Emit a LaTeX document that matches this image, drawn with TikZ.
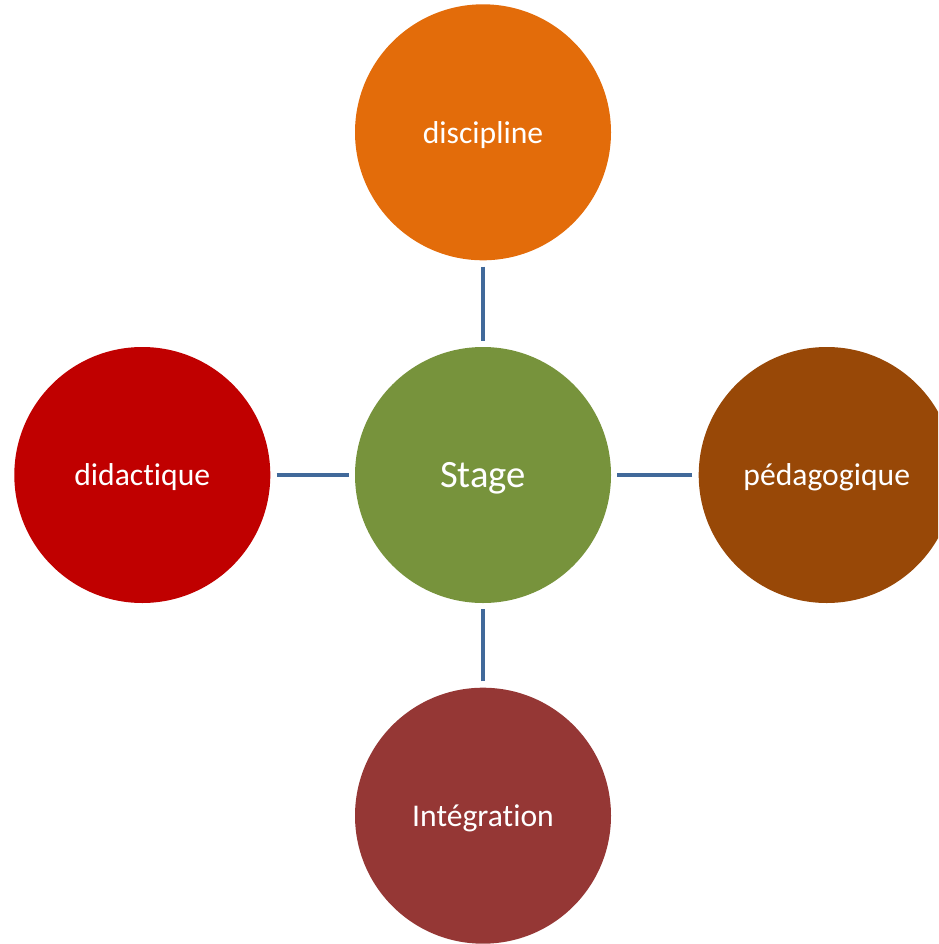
\documentclass[tikz,border=0pt]{standalone}
\usepackage{fontspec}
\setmainfont{Carlito}[RawFeature=-liga]
\usepackage{tikz}
\usetikzlibrary{positioning}

\definecolor{stagegreen}{HTML}{77933C}
\definecolor{discorange}{HTML}{E36C0A}
\definecolor{didred}{HTML}{C00000}
\definecolor{pedbrown}{HTML}{984807}
\definecolor{integred}{HTML}{953735}
\definecolor{linkblue}{HTML}{41699A}

\begin{document}
\begin{tikzpicture}[
    bubble/.style={circle, minimum size=5.12cm, inner sep=0pt, text depth=0pt, text=white, font=\fontsize{18}{22}\selectfont},
    link/.style={draw=linkblue, line width=2.8pt, shorten >=3.4pt, shorten <=3.4pt},
    node distance=1.72cm
  ]
            \useasboundingbox (0,0) rectangle (18.76,-18.88);
            \clip (0,0) rectangle (18.76,-18.88);
            \node[bubble, fill=stagegreen, font=\fontsize{22}{26}\selectfont] (stage) at (9.66,-9.5) {Stage};
            \node[bubble, fill=discorange, above=of stage] (discipline) {discipline};
            \node[bubble, fill=didred, left=1.68cm of stage] (didactique) {didactique};
            \node[bubble, fill=pedbrown, right=1.74cm of stage] (pedago) {pédagogique};
            \node[bubble, fill=integred, below=1.68cm of stage] (integration) {Intégration};
            \draw[link] (discipline) -- (stage);
            \draw[link] (didactique) -- (stage);
            \draw[link] (pedago) -- (stage);
            \draw[link] (integration) -- (stage);
        \end{tikzpicture}
\end{document}
